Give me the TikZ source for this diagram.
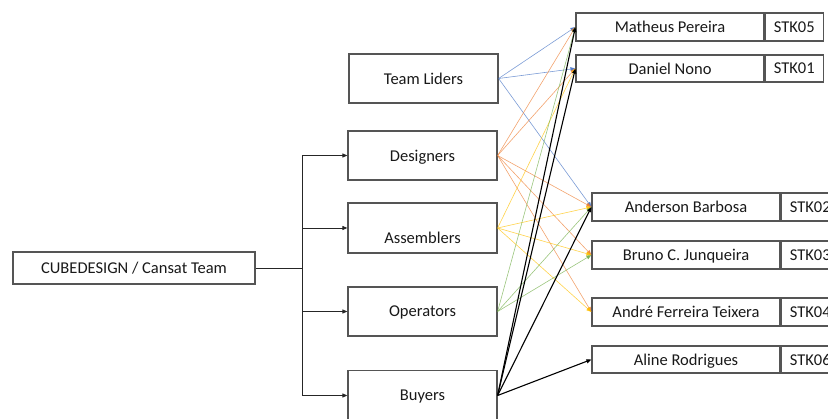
\documentclass[tikz,border=0pt]{standalone}
\usepackage{fontspec}
\setmainfont{Carlito}
\usetikzlibrary{arrows.meta}
\definecolor{boxgray}{HTML}{555555}
\definecolor{tlblue}{HTML}{4472C4}
\definecolor{dsorange}{HTML}{ED7D31}
\definecolor{asgold}{HTML}{FFC000}
\definecolor{opgreen}{HTML}{70AD47}
\newcommand{\lblfont}{\fontsize{16.5}{18}\selectfont}
\tikzset{
  frame/.style={draw=boxgray, line width=1.2pt, inner sep=0pt, text depth=-1pt, font=\lblfont, text=black!90},
  rolebox/.style={frame, minimum width=149pt, minimum height=49pt},
  namebox/.style={frame, minimum width=188pt, minimum height=28pt},
  idbox/.style={frame, minimum width=58pt, minimum height=28pt, anchor=west},
  tip/.style={-{Triangle[length=5pt,width=4pt]}},
  bus/.style={draw=black!85, line width=0.9pt},
  link/.style={tip, line width=0.6pt, draw opacity=0.7, fill opacity=0.9},
  blk/.style={tip, draw=black, line width=1.1pt},
}
\begin{document}
\begin{tikzpicture}[x=1pt,y=-1pt]
\useasboundingbox (0,0) rectangle (828,419);
\clip (0,0) rectangle (828,419);

% team and roles
\node[frame, minimum width=242pt, minimum height=32pt] (root) at (134,268) {CUBEDESIGN / Cansat Team};
\node[rolebox] (tl)  at (423.5,78.5) {Team Liders};
\node[rolebox] (des) at (422.5,155.5) {Designers};
\node[rolebox, minimum height=50pt, label={[font=\lblfont, text=black!90, yshift=-10pt]center:Assemblers}] (asm) at (422.5,228) {};
\node[rolebox] (ope) at (422.5,311.5) {Operators};
\node[rolebox, minimum height=50pt] (buy) at (422.5,395.5) {Buyers};

% stakeholders
\node[namebox] (mat) at (670,27) {Matheus Pereira};
\node[idbox] (matid) at (mat.east) {STK05};
\node[namebox, minimum height=27pt] (dan) at (670,68.5) {Daniel Nono};
\node[idbox, minimum height=27pt] (danid) at (dan.east) {STK01};
\node[namebox] (and) at (686,207) {Anderson Barbosa};
\node[idbox] (andid) at (and.east) {STK02};
\node[namebox] (bru) at (686,255) {Bruno C. Junqueira};
\node[idbox] (bruid) at (bru.east) {STK03};
\node[namebox] (ant) at (686,312) {André Ferreira Teixera};
\node[idbox] (antid) at (ant.east) {STK04};
\node[namebox, minimum height=27pt] (ali) at (686,359.5) {Aline Rodrigues};
\node[idbox, minimum height=27pt] (aliid) at (ali.east) {STK06};

% tree from the team to the roles
\coordinate (hub) at (302,268);
\draw[bus] (root.east) -- (hub);
\draw[bus] (hub |- des.west) -- (hub |- buy.west);
\foreach \r in {des,asm,ope,buy}
  \draw[bus, tip] (hub |- \r.west) -- (\r.west);

% role to stakeholder links
\foreach \s in {mat,dan,and}
  \draw[link, tlblue] (tl.east) -- (\s.west);
\foreach \s in {mat,dan,and,bru,ant}
  \draw[link, dsorange] (des.east) -- (\s.west);
\foreach \s in {dan,and,bru,ant}
  \draw[link, asgold] (asm.east) -- (\s.west);
\foreach \s in {mat,and,bru}
  \draw[link, opgreen] (ope.east) -- (\s.west);
\foreach \s in {mat,dan,and,ali}
  \draw[blk] (buy.east) -- (\s.west);
\end{tikzpicture}
\end{document}
